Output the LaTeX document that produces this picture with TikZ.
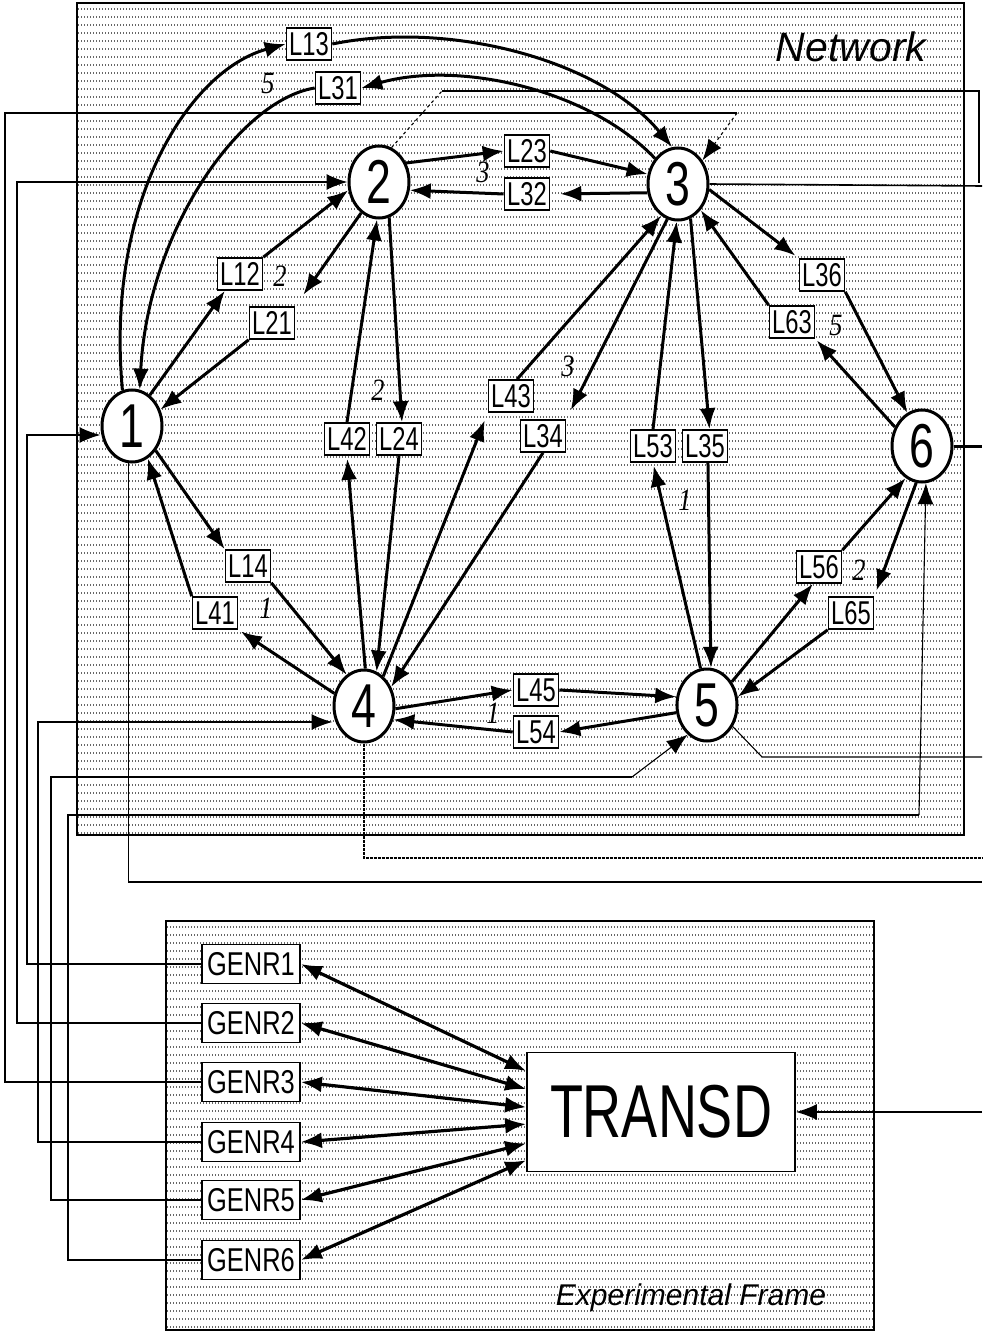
\documentclass[tikz,border=0pt]{standalone}
\usepackage{fontspec}
\setmainfont{Liberation Sans}
\newfontfamily\labfont[FakeStretch=0.72]{Liberation Sans}
\newfontfamily\genfont[FakeStretch=0.77]{Liberation Sans}
\newfontfamily\itlfont[FakeStretch=0.85]{Liberation Serif}
\newfontfamily\capfont{Liberation Sans}
\usetikzlibrary{shapes.geometric,arrows.meta,calc}
\begin{document}
\begin{tikzpicture}[x=1pt,y=-1pt,
  nd/.style={ellipse,draw,line width=3pt,fill=white,minimum width=60pt,minimum height=72pt,inner sep=0pt,font=\labfont\fontsize{62}{62}\selectfont},
  lb/.style={rectangle,draw,line width=1.6pt,fill=white,minimum width=45pt,minimum height=32pt,inner sep=0pt,font=\labfont\fontsize{33}{33}\selectfont},
  gb/.style={rectangle,draw,line width=1.7pt,fill=white,minimum width=98pt,minimum height=39pt,inner sep=0pt,font=\genfont\fontsize{33}{33}\selectfont},
  wt/.style={font=\itlfont\itshape\fontsize{31}{31}\selectfont,inner sep=0pt},
  tip/.style={-{Latex[length=21pt,width=16pt]}},
  lk/.style={line width=3pt,tip},
  ea/.style={line width=1.6pt,tip},
  ext/.style={line width=1.6pt},
  thinl/.style={line width=1.1pt},
  gt/.style={line width=3.2pt,{Latex[length=21pt,width=16pt]}-{Latex[length=21pt,width=16pt]}},
  bgd/.style={line width=1.1pt,black!60,dash pattern=on 1.2pt off 1.8pt},
]
\useasboundingbox (0,0) rectangle (982,1332);
% ---- background patterns and frames
\foreach \yy in {9,17,...,833} {\draw[bgd] (78,\yy) -- (963,\yy);}
\foreach \yy in {927,935,...,1327} {\draw[bgd] (167,\yy) -- (873,\yy);}
\draw[line width=1.8pt] (77,3) rectangle (964,835);
\draw[line width=2.4pt] (166,921) rectangle (874,1330);
\node[font=\capfont\itshape\fontsize{41}{41}\selectfont,anchor=base,inner sep=0pt] (nw) at (851,62) {Network};
\node[font=\capfont\itshape\fontsize{30}{30}\selectfont,anchor=base,inner sep=0pt] (ef) at (691,1305) {Experimental Frame};
% ---- network nodes
\node[nd] (n1) at (132,426) {1};
\node[nd] (n2) at (379,182) {2};
\node[nd] (n3) at (678,184) {3};
\node[nd] (n4) at (364,706) {4};
\node[nd] (n5) at (707,705) {5};
\node[nd] (n6) at (922,446) {6};
% ---- link boxes
\node[lb] (L13) at (309,44) {L13};
\node[lb] (L31) at (338,88) {L31};
\node[lb] (L23) at (527,151) {L23};
\node[lb] (L32) at (527,194) {L32};
\node[lb] (L12) at (240,274) {L12};
\node[lb] (L21) at (272,323) {L21};
\node[lb] (L42) at (347,439) {L42};
\node[lb] (L24) at (399,439) {L24};
\node[lb] (L43) at (511,396) {L43};
\node[lb] (L34) at (543,436) {L34};
\node[lb] (L53) at (653,446) {L53};
\node[lb] (L35) at (705,446) {L35};
\node[lb] (L36) at (822,275) {L36};
\node[lb] (L63) at (792,322) {L63};
\node[lb] (L14) at (248,566) {L14};
\node[lb] (L41) at (215,613) {L41};
\node[lb] (L45) at (536,690) {L45};
\node[lb] (L54) at (536,732) {L54};
\node[lb] (L56) at (819,567) {L56};
\node[lb] (L65) at (851,613) {L65};
% ---- delay labels
\node[wt] (w1) at (268,84) {5};
\node[wt] (w2) at (280,276) {2};
\node[wt] (w3) at (483,172) {3};
\node[wt] (w4) at (378,390) {2};
\node[wt] (w5) at (568,366) {3};
\node[wt] (w6) at (836,326) {5};
\node[wt] (w7) at (685,500) {1};
\node[wt] (w8) at (493,713) {1};
\node[wt] (w9) at (859,570) {2};
\node[wt] (w10) at (266,608) {1};
% ---- links
\draw[lk] (n1.105) .. controls (105,200) and (190,70) .. (L13.west);
\draw[lk] (L13.east) .. controls (450,20) and (600,60) .. (n3.99);
\draw[lk] (n3.132) .. controls (590,90) and (460,60) .. (L31.east);
\draw[lk] (L31.west) .. controls (240,100) and (148,230) .. (n1.78);
\draw[lk] (n1.60) -- (L12.228);
\draw[lk] (L12.north east) -- (n2.195);
\draw[lk,shorten >=14pt] (n2.240) -- (L21.north east);
\draw[lk] (L21.south west) -- (n1.30);
\draw[lk] (n1.314) -- (L14.north west);
\draw[lk] (L14.south east) -- (n4.119);
\draw[lk,shorten >=3pt] (n4.157) -- (L41.south east);
\draw[lk] (L41.north west) -- (n1.296);
\draw[lk] (n2.35) -- (L23.west);
\draw[lk] (L23.east) -- (n3.162);
\draw[lk,shorten >=10pt] (n3.196) -- (L32.east);
\draw[lk] (L32.west) -- (n2.345);
\draw[lk] (n2.286) -- (L24.80);
\draw[lk] (L24.south) -- (n4.70);
\draw[lk,shorten >=3pt] (n4.88) -- (L42.south);
\draw[lk] (L42.north) -- (n2.267);
\draw[lk,shorten >=10pt] (n3.253) -- (L34.north east);
\draw[lk] (L34.south) -- (n4.35);
\draw[lk,shorten >=8pt] (n4.57) -- (L43.south west);
\draw[lk] (L43.70) -- (n3.242);
\draw[lk] (n3.290) -- (L35.75);
\draw[lk] (L35.-80) -- (n5.84);
\draw[lk,shorten >=3pt] (n5.100) -- (L53.south);
\draw[lk] (L53.north) -- (n3.268);
\draw[lk,shorten >=4pt] (n3.350) -- (L36.north west);
\draw[lk] (L36.south east) -- (n6.114);
\draw[lk,shorten >=2pt] (n6.145) -- (L63.south east);
\draw[lk] (L63.north west) -- (n3.311);
\draw[lk] (n4.355) -- (L45.west);
\draw[lk] (L45.east) -- (n5.165);
\draw[lk] (n5.194) -- (L54.east);
\draw[lk] (L54.west) -- (n4.335);
\draw[lk] (n5.43) -- (L56.250);
\draw[lk] (L56.north east) -- (n6.243);
\draw[lk,shorten >=6pt] (n6.261) -- (L65.north east);
\draw[lk] (L65.south west) -- (n5.15);
% ---- experimental frame
\node[gb] (G1) at (251,964) {GENR1};
\node[gb] (G2) at (251,1023) {GENR2};
\node[gb] (G3) at (251,1082) {GENR3};
\node[gb] (G4) at (251,1142) {GENR4};
\node[gb] (G5) at (251,1200) {GENR5};
\node[gb] (G6) at (251,1260) {GENR6};
\node[draw,line width=1.7pt,fill=white,minimum width=268pt,minimum height=119pt,inner sep=0pt,font=\labfont\fontsize{75}{75}\selectfont] (T) at (661,1112) {TRANSD};
\draw[gt] (G1.east) -- ($(T.north west)!0.16!(T.south west)$);
\draw[gt] (G2.east) -- ($(T.north west)!0.31!(T.south west)$);
\draw[gt] (G3.east) -- ($(T.north west)!0.46!(T.south west)$);
\draw[gt] (G4.east) -- ($(T.north west)!0.60!(T.south west)$);
\draw[gt] (G5.east) -- ($(T.north west)!0.76!(T.south west)$);
\draw[gt] (G6.east) -- ($(T.north west)!0.90!(T.south west)$);
\coordinate (ti) at (982,1112);
\draw[ea] (ti) -- (T.east);
% ---- generator couplings into the network
\coordinate (c1) at (27,435);
\draw[ea] (G1.west) -| (c1) -- (c1 -| n1.west);
\coordinate (c2) at (17,182);
\draw[ea] (G2.west) -| (c2) -- (c2 -| n2.west);
\coordinate (c3) at (5,113);
\coordinate (c3b) at (737,113);
\draw[ext] (G3.west) -| (c3) -- (c3b);
\draw[thinl,dashed,tip] (c3b) -- (n3.44);
\coordinate (c4) at (38,722);
\draw[ea] (G4.west) -| (c4) -- (c4 -| n4.west);
\coordinate (c5) at (51,777);
\coordinate (c5b) at (632,777);
\draw[ext] (G5.west) -| (c5) -- (c5b);
\draw[thinl,tip] (c5b) -- (n5.237);
\coordinate (c6) at (68,815);
\coordinate (c6b) at (919,815);
\draw[ext] (G6.west) -| (c6) -- (c6b);
\draw[thinl,tip] (c6b) -- (n6.276);
% ---- network outputs
\coordinate (o1) at (982,882);
\draw[thinl] (n1.265) |- (o1);
\coordinate (o4) at (982,858);
\draw[line width=1.8pt,dash pattern=on 3pt off 1pt] (n4.south) |- (o4);
\coordinate (o5a) at (762,757);
\coordinate (o5) at (982,757);
\draw[thinl] (n5.320) -- (o5a) -- (o5);
\coordinate (o6) at (982,446);
\draw[line width=3pt] (n6.east) -- (o6);
\coordinate (o3) at (982,186);
\draw[ext] (n3.east) -- (o3);
\coordinate (o2a) at (442,91);
\coordinate (o2b) at (979,91);
\coordinate (o2c) at (979,183);
\draw[thinl,dashed] (n2.70) -- (o2a);
\draw[ext] (o2a) -- (o2b) -- (o2c);
\end{tikzpicture}
\end{document}
